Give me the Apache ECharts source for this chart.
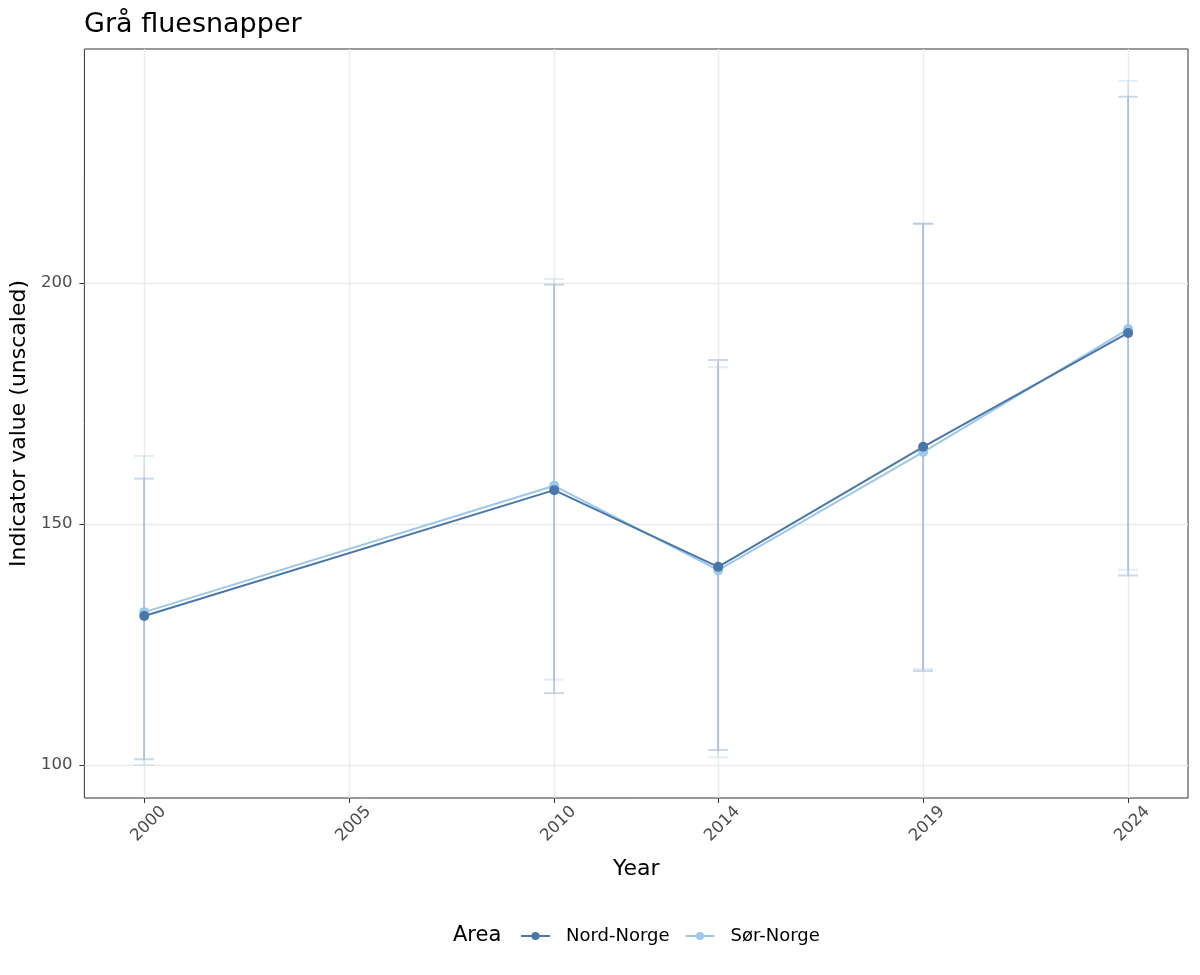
<!DOCTYPE html>
<html><head><meta charset="utf-8">
<script src="https://cdn.jsdelivr.net/npm/echarts@6/dist/echarts.min.js"></script>
<style>html,body{margin:0;padding:0;background:#fff}#c{width:1200px;height:975px}</style>
</head><body><div id="c"></div>
<script>
const years = [2000, 2010, 2014, 2019, 2024];
const xTicks = [2000, 2005, 2010, 2014, 2019, 2024];
const yTicks = [100, 150, 200];
const areas = ['Nord-Norge', 'Sør-Norge'];
const nordValue = [130.9, 157.0, 141.1, 166.0, 189.6];
const nordLow   = [101.2, 114.9, 103.1, 119.5, 139.3];
const nordHigh  = [159.4, 199.6, 184.0, 212.2, 238.6];
const sorValue  = [131.7, 157.9, 140.4, 164.9, 190.4];
const sorLow    = [100.0, 117.7, 101.6, 119.9, 140.5];
const sorHigh   = [164.1, 200.8, 182.5, 212.4, 241.9];

const colors = ['#4A77A8', '#9DC8E9'];
const errColors = ['rgba(74,119,168,0.28)', 'rgba(157,200,233,0.3)'];
const font = '"DejaVu Sans", sans-serif';
const chart = echarts.init(document.getElementById('c'));

function errSeries(name, low, high, color) {
  return {
    type: 'custom', name: name + ' CI', z: 2, silent: true,
    data: years.map((y, i) => [y, low[i], high[i]]),
    encode: { x: 0, y: [1, 2] },
    renderItem: function (params, api) {
      const x = Math.round(api.coord([api.value(0), 0])[0]);
      const lo = api.coord([api.value(0), api.value(1)]);
      const hi = api.coord([api.value(0), api.value(2)]);
      const hw = 10;
      const st = { stroke: color, lineWidth: 2 };
      return { type: 'group', children: [
        { type: 'line', shape: { x1: x, y1: lo[1]-1, x2: x, y2: hi[1]+1 }, style: st },
        { type: 'line', shape: { x1: x-hw, y1: lo[1], x2: x+hw, y2: lo[1] }, style: st },
        { type: 'line', shape: { x1: x-hw, y1: hi[1], x2: x+hw, y2: hi[1] }, style: st }
      ]};
    }
  };
}

const gridLineStyle = { color: '#EBEBEB', width: 1.4, type: 'solid' };
chart.setOption({
  animation: false,
  backgroundColor: '#fff',
  title: { text: 'Grå fluesnapper', left: 79, top: 6,
    textStyle: { fontFamily: font, fontSize: 27, fontWeight: 'normal', color: '#000' } },
  grid: { left: 84, right: 12, top: 49, bottom: 177, show: true, borderColor: '#333', borderWidth: 1, containLabel: false },
  legend: {
    data: areas, left: 515, top: 922, itemWidth: 29, itemHeight: 10, itemGap: 15,
    textStyle: { fontFamily: font, fontSize: 18, color: '#000', padding: [0,0,0,11] }
  },
  graphic: [{ type: 'text', left: 453, top: 925, style: { text: 'Area', fontFamily: font, fontSize: 21, fill: '#000' } }],
  xAxis: {
    type: 'value', min: 1998.54, max: 2025.46,
    name: 'Year', nameLocation: 'middle', nameGap: 60,
    nameTextStyle: { fontFamily: font, fontSize: 22, color: '#000' },
    axisLine: { show: false },
    splitLine: { show: false },
    axisTick: { show: true, length: 5, lineStyle: { color: '#333' }, customValues: xTicks },
    axisLabel: { rotate: 45, fontFamily: font, fontSize: 16.5, color: '#4D4D4D', margin: -8,
      align: 'right', verticalAlign: 'top', lineHeight: 17, padding: [18.5, 0, 0, 0],
      customValues: xTicks, formatter: v => String(v) }
  },
  yAxis: {
    type: 'value', min: 93.15, max: 248.5,
    name: 'Indicator value (unscaled)', nameLocation: 'middle', nameGap: 52, nameRotate: 90,
    nameTextStyle: { fontFamily: font, fontSize: 22, color: '#000' },
    axisLine: { show: false },
    splitLine: { show: false },
    axisTick: { show: true, length: 5, lineStyle: { color: '#333' }, customValues: yTicks },
    axisLabel: { fontFamily: font, fontSize: 16.5, color: '#4D4D4D', margin: 12, customValues: yTicks }
  },
  series: [
    { type: 'line', name: '__grid', silent: true, z: 0, data: [], symbol: 'none',
      markLine: { z: 0, silent: true, symbol: 'none', label: { show: false }, lineStyle: gridLineStyle, animation: false,
        data: xTicks.map(v => ({ xAxis: v })).concat(yTicks.map(v => ({ yAxis: v }))) } },
    errSeries(areas[1], sorLow, sorHigh, errColors[1]),
    errSeries(areas[0], nordLow, nordHigh, errColors[0]),
    { type: 'line', name: areas[0], z: 4, data: years.map((y, i) => [y, nordValue[i]]),
      color: colors[0], symbol: 'circle', symbolSize: 10, lineStyle: { width: 2, color: colors[0] }, itemStyle: { color: colors[0] } },
    { type: 'line', name: areas[1], z: 3, data: years.map((y, i) => [y, sorValue[i]]),
      color: colors[1], symbol: 'circle', symbolSize: 10, lineStyle: { width: 2, color: colors[1] }, itemStyle: { color: colors[1] } }
  ]
});
</script></body></html>
